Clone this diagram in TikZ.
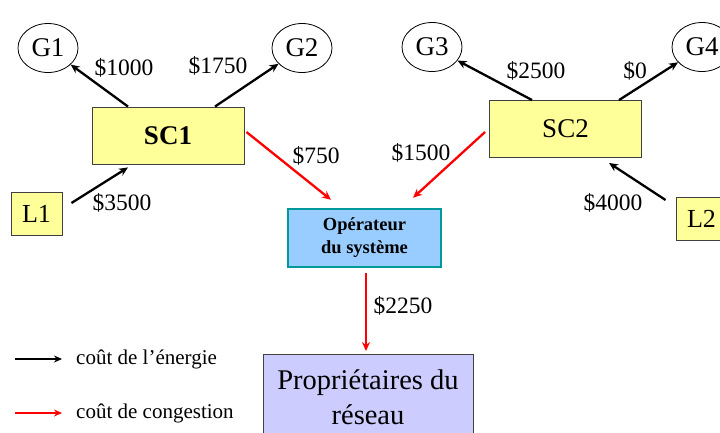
\documentclass[tikz,border=0pt]{standalone}
\usepackage{fontspec}
\setmainfont{Liberation Serif}
\usetikzlibrary{arrows.meta,shapes.geometric}
\definecolor{boxyellow}{HTML}{FFFF99}
\definecolor{opblue}{HTML}{99CCFF}
\definecolor{opteal}{HTML}{009999}
\definecolor{lavender}{HTML}{CCCCFF}
\definecolor{edgegray}{HTML}{404040}
\tikzset{
  gen/.style={ellipse, draw=black, line width=0.8pt, fill=white, minimum width=60pt, minimum height=49pt, inner sep=0pt, font=\fontsize{27}{30}\selectfont},
  scbox/.style={rectangle, draw=edgegray, line width=0.9pt, fill=boxyellow, minimum width=152pt, minimum height=57pt, inner sep=0pt},
  loadbox/.style={rectangle, draw=edgegray, line width=0.9pt, fill=boxyellow, minimum width=51pt, minimum height=43pt, inner sep=0pt, font=\fontsize{26}{30}\selectfont},
  opbox/.style={rectangle, draw=opteal, line width=2.4pt, fill=opblue, minimum width=153pt, minimum height=58pt, inner sep=0pt, align=center, font=\fontsize{18.5}{23}\selectfont\bfseries},
  propbox/.style={rectangle, draw=edgegray, line width=0.9pt, fill=lavender, minimum width=210pt, minimum height=85pt, inner sep=0pt, align=center, font=\fontsize{28.5}{35}\selectfont},
  cost/.style={inner sep=0pt, font=\fontsize{23.5}{28}\selectfont},
  legtext/.style={inner sep=0pt, anchor=west, font=\fontsize{21}{25}\selectfont},
  energy/.style={draw=black, line width=2.3pt, -{Stealth[length=9pt,width=8pt]}},
  congest/.style={draw=red, line width=2.3pt, -{Stealth[length=9pt,width=8pt]}}
}
\begin{document}
\begin{tikzpicture}[x=1pt,y=-1pt]
\useasboundingbox (0,0) rectangle (720,432);
% nodes
\node[gen] (G1) at (48,48) {G1};
\node[gen] (G2) at (302,48) {G2};
\node[gen] (G3) at (432,47) {G3};
\node[gen] (G4) at (702,47) {G4};
\node[scbox, font=\fontsize{27}{30}\selectfont\bfseries] (SC1) at (168,135.5) {SC1};
\node[scbox, font=\fontsize{27}{30}\selectfont] (SC2) at (565.5,129) {SC2};
\node[loadbox] (L1) at (36.5,213.5) {L1};
\node[loadbox] (L2) at (701.5,218.5) {L2};
\node[opbox] (OP) at (364.5,238) {Opérateur\\du système};
\node[propbox] (PR) at (368,397) {Propriétaires du\\réseau};
% energy arrows
\draw[energy] ([xshift=-40pt]SC1.north) -- (G1);
\draw[energy] ([xshift=47pt]SC1.north) -- (G2);
\draw[energy] ([xshift=9pt,yshift=10.5pt]L1.east) -- ([xshift=-40pt,yshift=-3pt]SC1.south);
\draw[energy] ([xshift=-33.5pt]SC2.north) -- (G3);
\draw[energy] ([xshift=53.5pt]SC2.north) -- (G4);
\draw[energy] ([xshift=-10pt,yshift=18.5pt]L2.west) -- ([xshift=43.5pt,yshift=-5pt]SC2.south);
% congestion arrows
\draw[congest] ([xshift=2pt,yshift=3.5pt]SC1.east) -- ([xshift=-33.5pt,yshift=8pt]OP.north);
\draw[congest] ([xshift=-4pt,yshift=-3pt]SC2.west) -- ([xshift=48.5pt,yshift=10pt]OP.north);
\draw[congest] ([xshift=1.5pt,yshift=-5pt]OP.south) -- ([xshift=-2pt,yshift=3pt]PR.north);
% cost labels
\node[cost] (c1) at (124,68) {\$1000};
\node[cost] (c2) at (218,66) {\$1750};
\node[cost] (c3) at (316,156) {\$750};
\node[cost] (c4) at (122,203) {\$3500};
\node[cost] (c5) at (536,71) {\$2500};
\node[cost] (c6) at (635,71) {\$0};
\node[cost] (c7) at (421,153) {\$1500};
\node[cost] (c8) at (613,203) {\$4000};
\node[cost] (c9) at (403,306) {\$2250};
% legend
\coordinate (la1) at (15,359);
\coordinate (lb1) at (62,359);
\coordinate (la2) at (15,413);
\coordinate (lb2) at (62,413);
\draw[draw=black, line width=2.2pt, -{Stealth[length=8pt,width=7pt]}] (la1) -- (lb1);
\draw[draw=red, line width=2.2pt, -{Stealth[length=8pt,width=7pt]}] (la2) -- (lb2);
\node[legtext] (t1) at (76,359) {coût de l’énergie};
\node[legtext] (t2) at (76,413) {coût de congestion};
\end{tikzpicture}
\end{document}
